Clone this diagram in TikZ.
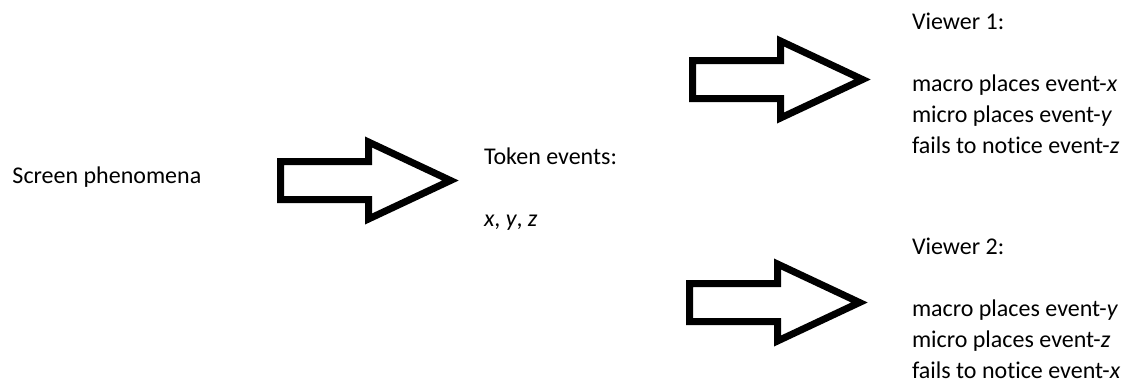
\documentclass[tikz,border=0pt]{standalone}
\usepackage{fontspec}
\setmainfont[Ligatures=NoCommon]{Carlito}
\begin{document}
\begin{tikzpicture}[x=1pt,y=-1pt,
  txt/.style={inner sep=0pt,outer sep=0pt,anchor=base west,align=left,
    font=\fontsize{24}{31}\selectfont,text=black},
  arrowline/.style={draw=black,line width=7pt,line join=miter,fill=white},
  pics/blockarrow/.style={code={
    \draw[arrowline] (0,-19) -- (88,-19) -- (88,-38.5) -- (170,0)
      -- (88,38.5) -- (88,19) -- (0,19) -- cycle;}}]
\useasboundingbox (0,0) rectangle (1136,384);
\fill[white] (0,0) rectangle (1136,384);

% anchor=base west of a multi-line node is the baseline of its last line
\node[txt,align=none] (screen) at (12.5,183.3) {Screen phenomena};
\node[txt] (token) at (484,226.7) {Token events:\\[31pt]\textit{x}, \textit{y}, \textit{z}};
\node[txt] (viewer1) at (912,153.3) {Viewer 1:\\[31pt]macro places event-\textit{x}\\micro places event-\textit{y}\\fails to notice event-\textit{z}};
\node[txt] (viewer2) at (912,378.3) {Viewer 2:\\[31pt]macro places event-\textit{y}\\micro places event-\textit{z}\\fails to notice event-\textit{x}};

\coordinate (a1) at (280.5,180.5);
\coordinate (a2) at (692.5,79.5);
\coordinate (a3) at (689.5,302.5);
\pic at (a1) {blockarrow};
\pic at (a2) {blockarrow};
\pic at (a3) {blockarrow};
\end{tikzpicture}
\end{document}
